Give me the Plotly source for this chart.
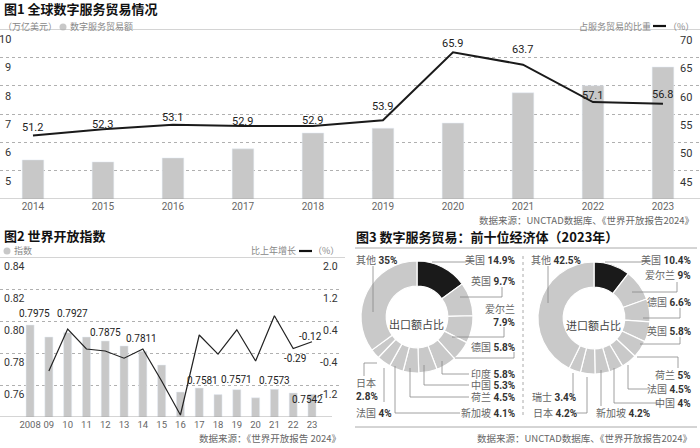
import plotly.graph_objects as go

W, H = 700, 448
FONT = "Roboto, Noto Sans CJK SC"
CJK = "Noto Sans CJK SC, Roboto"
GRAY = "#c8c8c8"
INK = "#1a1a1a"

# ---------------- data ----------------
years1 = ["2014", "2015", "2016", "2017", "2018", "2019", "2020", "2021", "2022", "2023"]
trade = [5.38, 5.31, 5.45, 5.77, 6.33, 6.50, 6.68, 7.75, 8.00, 8.66]          # 万亿美元
share = [51.2, 52.3, 53.1, 52.9, 52.9, 53.9, 65.9, 63.7, 57.1, 56.8]          # %
share_lbl_shift = [8, 5, 7, 4, 5, 14, 9, 15, 7, 9]
ticks1_left = [5, 6, 7, 8, 9, 10]
ticks1_right = [45, 50, 55, 60, 65, 70]

years2 = ["2008", "09", "10", "11", "12", "13", "14", "15", "16", "17", "18", "19", "20", "21", "22", "23"]
index2 = [0.7975, 0.7900, 0.7927, 0.7900, 0.7875, 0.7844, 0.7811, 0.7725,
          0.7556, 0.7581, 0.7540, 0.7571, 0.7520, 0.7573, 0.7550, 0.7542]
growth2 = [None, -0.85, 0.20, -0.30, -0.35, -0.53, -0.30, -1.10,
           -1.95, 0.05, -0.43, 0.18, -0.60, 0.53, -0.29, -0.12]
index_labels = {"2008": (0.7975, 4, 12), "10": (0.7927, 5, 19), "12": (0.7875, 0, 9),
                "14": (0.7811, -1, 13), "17": (0.7581, 3, 8), "19": (0.7571, 0, 10),
                "21": (0.7573, 0, 9), "23": (0.7542, -5, -5)}
growth_labels = {"22": (-0.29, 2, -10), "23": (-0.12, -2, 5)}
ticks2_left = [0.76, 0.78, 0.80, 0.82, 0.84]
ticks2_left_txt = ["0.76", "0.78", "0.80", "0.82", "0.84"]
ticks2_right = [-1.2, -0.4, 0.4, 1.2, 2.0]
ticks2_right_txt = ["-1.2", "-0.4", "0.4", "1.2", "2.0"]

exp_names = ["美国", "英国", "爱尔兰", "德国", "印度", "中国", "荷兰", "新加坡", "法国", "日本", "其他"]
exp_vals = [14.9, 9.7, 7.9, 5.8, 5.8, 5.3, 4.5, 4.1, 4.0, 2.8, 35.0]
imp_names = ["美国", "爱尔兰", "德国", "英国", "荷兰", "法国", "中国", "新加坡", "日本", "瑞士", "其他"]
imp_vals = [10.4, 9.0, 6.6, 5.8, 5.0, 4.5, 4.0, 4.2, 4.2, 3.4, 42.5]


def px(x):
    return x / W


def py(y):
    return 1 - y / H


fig = go.Figure()

# ---------------- chart 1 ----------------
fig.add_trace(go.Bar(x=years1, y=trade, marker_color=GRAY, width=0.31,
                     xaxis="x", yaxis="y", showlegend=False))
fig.add_trace(go.Scatter(x=years1, y=share, mode="lines", line=dict(color=INK, width=2),
                         xaxis="x", yaxis="y2", showlegend=False))

# ---------------- chart 2 ----------------
fig.add_trace(go.Bar(x=years2, y=index2, marker_color=GRAY, width=0.43,
                     xaxis="x3", yaxis="y3", showlegend=False))
fig.add_trace(go.Scatter(x=years2, y=growth2, mode="lines", line=dict(color="#222", width=1.2),
                         xaxis="x3", yaxis="y4", showlegend=False, connectgaps=False))

# ---------------- chart 3 donuts ----------------
def donut(vals, names, cx, cy, r):
    colors = [INK] + ["#c9c9c9"] * (len(vals) - 1)
    return go.Pie(values=vals, labels=names, hole=0.55, sort=False, direction="clockwise",
                  rotation=0, textinfo="none", hoverinfo="label+value",
                  marker=dict(colors=colors, line=dict(color="white", width=1.2)),
                  domain=dict(x=[px(cx - r), px(cx + r)], y=[py(cy + r), py(cy - r)]),
                  showlegend=False)


fig.add_trace(donut(exp_vals, exp_names, 417, 317, 56))
fig.add_trace(donut(imp_vals, imp_names, 594, 318, 56))

annotations = []
shapes = []


def text(x, y, t, size=10, color="#333", xanchor="left", family=FONT, align="left"):
    annotations.append(dict(x=px(x), y=py(y), xref="paper", yref="paper", text=t,
                            showarrow=False, xanchor=xanchor, yanchor="middle", align=align,
                            borderpad=0, font=dict(size=size, color=color, family=family)))


def hline(x0, x1, y, color="#aaa", width=1, dash="solid"):
    shapes.append(dict(type="line", xref="paper", yref="paper", x0=px(x0), x1=px(x1),
                       y0=py(y), y1=py(y), line=dict(color=color, width=width, dash=dash)))


def dot(cx, cy, r=3.5, color="#c8c8c8"):
    shapes.append(dict(type="circle", xref="paper", yref="paper", x0=px(cx - r), x1=px(cx + r),
                       y0=py(cy + r), y1=py(cy - r), fillcolor=color, line=dict(width=0)))


def poly(pts, color="#888", width=0.8):
    path = "M " + " L ".join(f"{px(a)},{py(b)}" for a, b in pts)
    shapes.append(dict(type="path", xref="paper", yref="paper", path=path,
                       line=dict(color=color, width=width)))


# chart 1 headers
text(3, 9, "<b>图1 全球数字服务贸易情况</b>", size=13, color="#111", family=CJK)
text(2, 27, "（万亿美元）", size=9, color="#888", family=CJK)
dot(63, 27)
text(69, 27, "数字服务贸易额", size=9, color="#888", family=CJK)
text(652, 26, "占服务贸易的比重", size=9, color="#888", xanchor="right", family=CJK)
hline(653, 666, 26, color="#111", width=2.2)
text(695, 26, "（%）", size=9, color="#888", xanchor="right", family=CJK)
text(695, 220, "数据来源：UNCTAD数据库、《世界开放报告2024》", size=9.5, color="#666",
     xanchor="right", family=CJK)

for v in ticks1_left:
    annotations.append(dict(x=px(13), y=v, xref="paper", yref="y", text=str(v), showarrow=False,
                            xanchor="right", yanchor="top", yshift=-2,
                            font=dict(size=11, color="#333", family=FONT)))
for v in ticks1_right:
    annotations.append(dict(x=px(694), y=v, xref="paper", yref="y2", text=str(v), showarrow=False,
                            xanchor="right", yanchor="top", yshift=-3,
                            font=dict(size=11, color="#333", family=FONT)))
for i, (v, s) in enumerate(zip(share, share_lbl_shift)):
    annotations.append(dict(x=i, y=v, xref="x", yref="y2", text=f"{v}", showarrow=False,
                            yanchor="middle", yshift=s, font=dict(size=11, color="#222", family=FONT)))

# chart 1 frame lines
shapes.append(dict(type="line", xref="paper", yref="y", x0=0, x1=1, y0=10, y1=10,
                   line=dict(color="#aaa", width=1)))
shapes.append(dict(type="line", xref="paper", yref="y", x0=0, x1=1, y0=4, y1=4,
                   line=dict(color="#aaa", width=1)))

# chart 2 headers
text(3, 235, "<b>图2 世界开放指数</b>", size=13, color="#111", family=CJK)
dot(7, 251)
text(13, 251, "指数", size=9, color="#888", family=CJK)
text(297, 251, "比上年增长", size=9, color="#888", xanchor="right", family=CJK)
hline(299, 312, 251, color="#111", width=2.2)
text(340, 251, "（%）", size=9, color="#888", xanchor="right", family=CJK)
text(342, 438, "数据来源：《世界开放报告 2024》", size=9.5, color="#666", xanchor="right", family=CJK)

for v, t in zip(ticks2_left, ticks2_left_txt):
    annotations.append(dict(x=px(2), y=v, xref="paper", yref="y3", text=t, showarrow=False,
                            xanchor="left", yanchor="top", yshift=-1,
                            font=dict(size=10.5, color="#333", family=FONT)))
for v, t in zip(ticks2_right, ticks2_right_txt):
    annotations.append(dict(x=px(340), y=v, xref="paper", yref="y4", text=t, showarrow=False,
                            xanchor="right", yanchor="top", yshift=-1,
                            font=dict(size=10.5, color="#333", family=FONT)))
for k, (v, dx, dy) in index_labels.items():
    annotations.append(dict(x=years2.index(k), y=v, xref="x3", yref="y3", text=f"{v:.4f}",
                            showarrow=False, yanchor="middle", xshift=dx, yshift=dy,
                            font=dict(size=10, color="#222", family=FONT)))
for k, (v, dx, dy) in growth_labels.items():
    annotations.append(dict(x=years2.index(k), y=v, xref="x3", yref="y4", text=f"{v}",
                            showarrow=False, yanchor="middle", xshift=dx, yshift=dy,
                            font=dict(size=10, color="#222", family=FONT)))

shapes.append(dict(type="line", xref="paper", yref="y3", x0=0, x1=px(345), y0=0.84, y1=0.84,
                   line=dict(color="#aaa", width=1)))
shapes.append(dict(type="line", xref="paper", yref="y3", x0=0, x1=px(332), y0=0.74, y1=0.74,
                   line=dict(color="#aaa", width=1)))

# chart 3 headers
text(355, 237, "<b>图3 数字服务贸易：前十位经济体（2023年）</b>", size=13, color="#111", family=CJK)
hline(355, 697, 248)
hline(355, 697, 427)
shapes.append(dict(type="line", xref="paper", yref="paper", x0=px(523), x1=px(523),
                   y0=py(256), y1=py(418), line=dict(color="#aaa", width=1, dash="dot")))
text(693, 438, "数据来源：UNCTAD数据库、《世界开放报告2024》", size=9.5, color="#666",
     xanchor="right", family=CJK)
text(416, 324, "出口额占比", size=11, color="#444", xanchor="center", family=CJK)
text(593, 325, "进口额占比", size=11, color="#444", xanchor="center", family=CJK)


def lab(name, val):
    return f"<span style='color:#666'>{name}</span> <b>{val}%</b>"


# export labels + leaders
text(355, 260, lab("其他", "35"), xanchor="left")
poly([(373, 266), (373, 312)])
text(516, 260, lab("美国", "14.9"), xanchor="right")
poly([(432, 262), (466, 262)])
text(516, 281, lab("英国", "9.7"), xanchor="right")
poly([(502, 287), (502, 297), (460, 297)])
text(516, 315, "<span style='color:#666'>爱尔兰</span><br><b>7.9%</b>", xanchor="right", align="right")
poly([(504, 327), (504, 337), (452, 337)])
text(516, 347, lab("德国", "5.8"), xanchor="right")
poly([(514, 352), (514, 358), (455, 358)])
text(516, 374, lab("印度", "5.8"), xanchor="right")
poly([(469, 374), (442, 374), (442, 361)])
text(516, 385, lab("中国", "5.3"), xanchor="right")
poly([(469, 385), (424, 385), (424, 365)])
text(516, 397, lab("荷兰", "4.5"), xanchor="right")
poly([(469, 397), (410, 397), (410, 368)])
text(516, 413, lab("新加坡", "4.1"), xanchor="right")
poly([(460, 413), (395, 413), (395, 366)])
text(355, 413, lab("法国", "4"), xanchor="left")
poly([(384, 368), (384, 402)])
text(355, 389, "<span style='color:#666'>日本</span><br><b>2.8%</b>", xanchor="left")
poly([(377, 363), (364, 363), (364, 376)])

# import labels + leaders
text(530, 260, lab("其他", "42.5"), xanchor="left")
poly([(548, 266), (548, 303)])
text(692, 260, lab("美国", "10.4"), xanchor="right")
poly([(605, 262), (643, 262)])
text(692, 275, lab("爱尔兰", "9"), xanchor="right")
poly([(677, 282), (677, 292), (632, 292)])
text(692, 302, lab("德国", "6.6"), xanchor="right")
poly([(680, 308), (680, 318), (643, 318)])
text(692, 331, lab("英国", "5.8"), xanchor="right")
poly([(680, 337), (680, 344), (640, 344)])
text(692, 375, lab("荷兰", "5"), xanchor="right")
poly([(637, 357), (678, 357), (678, 368)])
text(692, 389, lab("法国", "4.5"), xanchor="right")
poly([(650, 389), (628, 389), (628, 365)])
text(692, 403, lab("中国", "4"), xanchor="right")
poly([(660, 403), (614, 403), (614, 368)])
text(595, 413, lab("新加坡", "4.2"), xanchor="left")
poly([(601, 370), (601, 406)])
text(532, 413, lab("日本", "4.2"), xanchor="left")
poly([(575, 413), (587, 413), (587, 377)])
text(531, 397, lab("瑞士", "3.4"), xanchor="left")
poly([(573, 395), (573, 373)])

grid = dict(showgrid=True, gridcolor="#b0b0b0", griddash="dot", gridwidth=1)

fig.update_layout(
    width=W, height=H, autosize=False,
    margin=dict(l=0, r=0, t=0, b=0),
    paper_bgcolor="white", plot_bgcolor="rgba(0,0,0,0)",
    font=dict(family=FONT),
    showlegend=False,
    annotations=annotations, shapes=shapes,
    xaxis=dict(domain=[0, 1], anchor="y", type="category", range=[-0.471, 9.529],
               showgrid=False, zeroline=False, showline=False, ticks="",
               tickfont=dict(size=10, color="#666", family=FONT)),
    yaxis=dict(domain=[py(199), py(29)], range=[4, 10], tickvals=[5, 6, 7, 8, 9],
               showticklabels=False, zeroline=False, showline=False, **grid),
    yaxis2=dict(overlaying="y", side="right", range=[40, 70], showgrid=False,
                showticklabels=False, zeroline=False, showline=False),
    xaxis3=dict(domain=[0, px(340)], anchor="y3", type="category", range=[-1.6, 16.49],
                showgrid=False, zeroline=False, showline=False, ticks="",
                tickfont=dict(size=9.5, color="#666", family=FONT)),
    yaxis3=dict(domain=[py(417), py(257)], anchor="x3", range=[0.74, 0.84],
                tickvals=[0.76, 0.78, 0.80, 0.82], showticklabels=False,
                zeroline=False, showline=False, **grid),
    yaxis4=dict(overlaying="y3", side="right", anchor="x3", range=[-2, 2], showgrid=False,
                showticklabels=False, zeroline=False, showline=False),
)

fig.write_html("out.html")
